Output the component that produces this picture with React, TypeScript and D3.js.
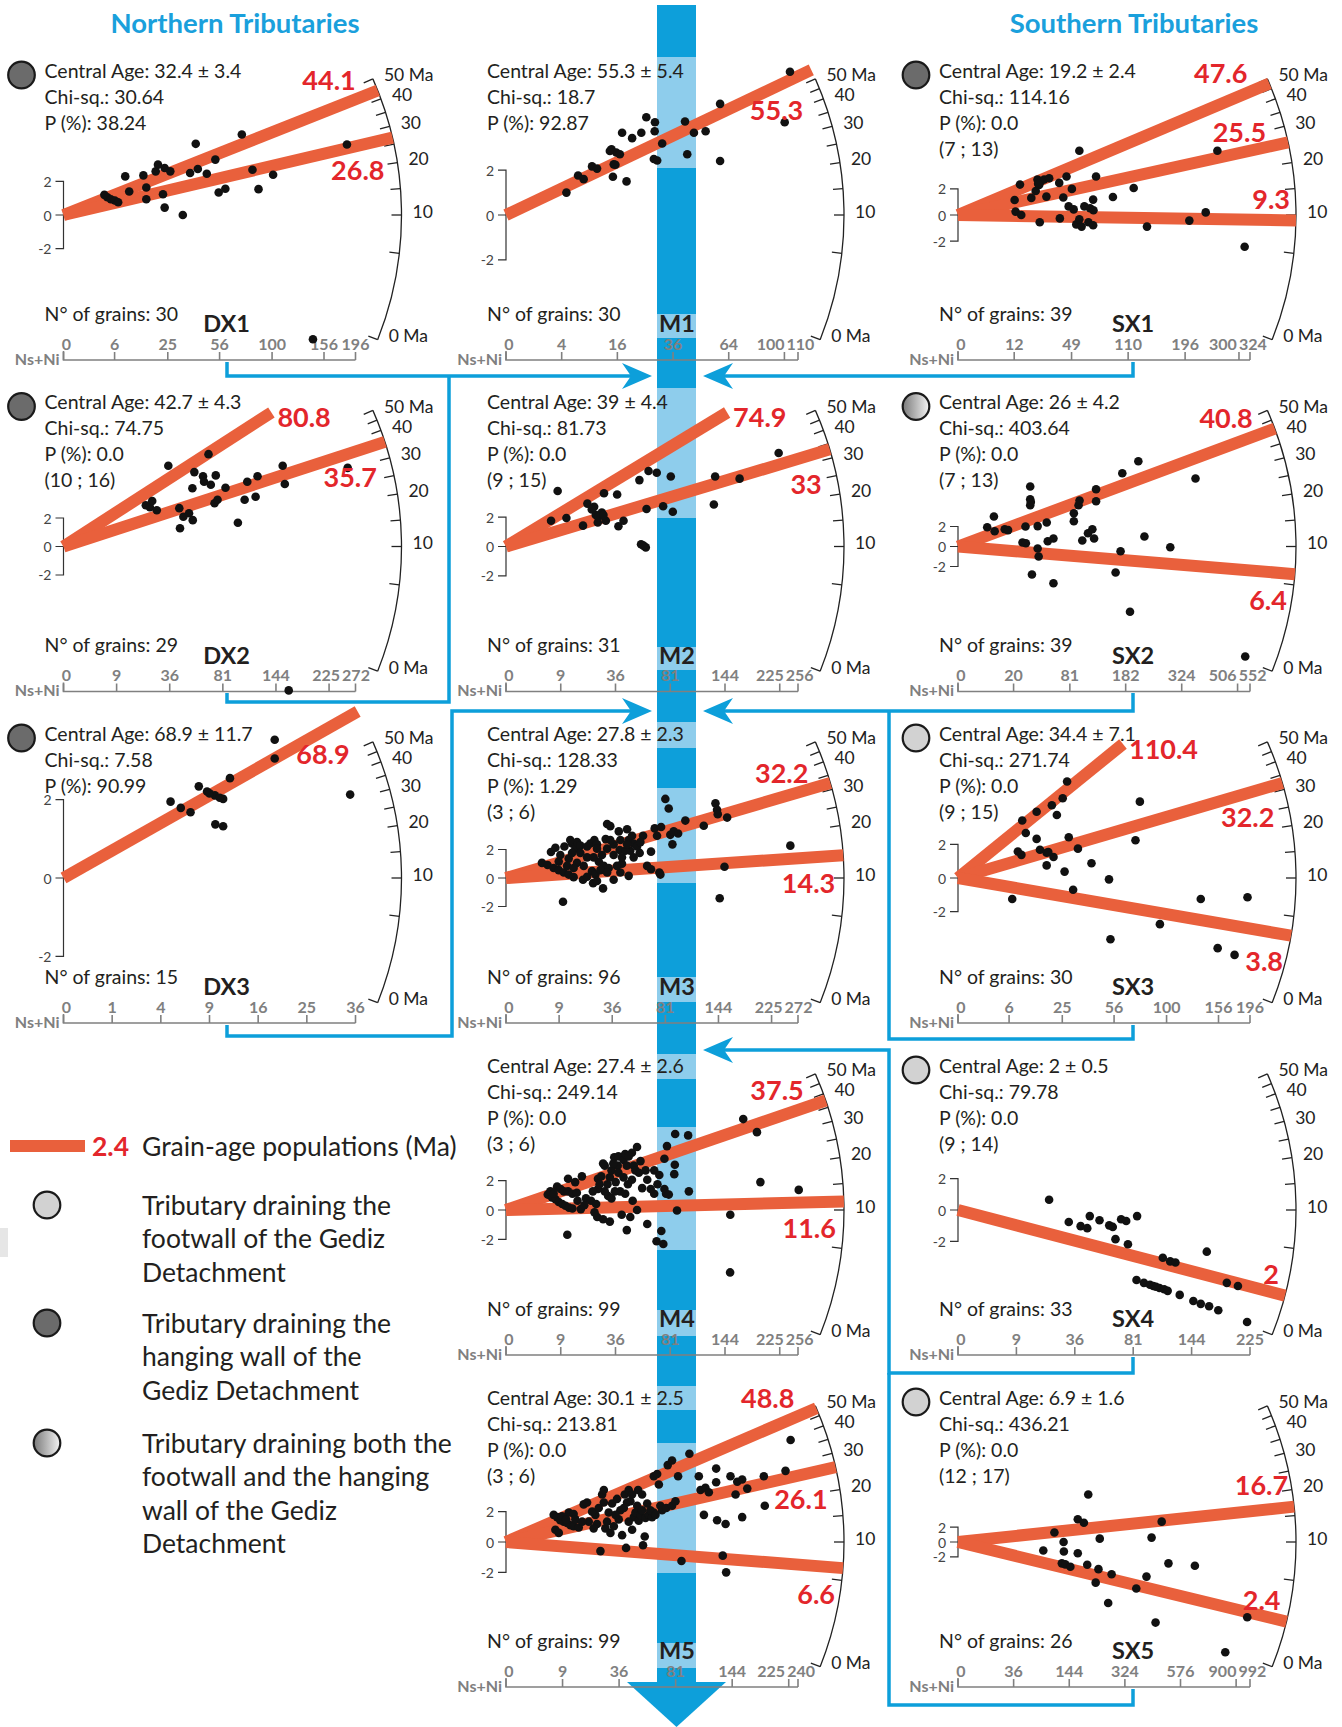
import React from 'react';
import * as d3 from 'd3';

const FONT = 'Lato, "Open Sans", sans-serif';

// arc calibration: age (Ma) -> slope of the ray in the radial plot
const arcAges = [0, 2, 5, 10, 20, 30, 40, 50, 80, 110];
const arcSlopes = [-0.397, -0.262, -0.114, 0, 0.157, 0.272, 0.366, 0.44, 0.64, 0.81];
const arcLabels: [number, string][] = [[0, '0 Ma'], [10, '10'], [20, '20'], [30, '30'], [40, '40'], [50, '50 Ma']];

// grains: [sqrt(Ns+Ni), standardised estimate]
const grainsDX1 = [[1.96,1.2],[2.10,1.06],[2.27,0.94],[2.46,0.86],[2.62,0.76],[2.96,2.3],[3.15,1.4],[3.83,2.36],[3.97,1.64],[3.97,0.94],[4.42,2.6],[4.53,3.0],[4.77,1.24],[4.85,0.44],[4.85,2.8],[5.12,2.6],[5.72,0.0],[6.07,2.5],[6.34,4.24],[6.44,2.74],[6.87,2.46],[7.28,3.3],[7.44,1.34],[7.76,1.56],[8.55,4.8],[9.06,2.7],[9.35,1.54],[10.05,2.4],[13.59,4.2],[11.96,-7.4]];
const grainsDX2 = [[4.65,2.90],[4.88,2.75],[5.01,3.19],[5.27,2.54],[5.92,5.67],[6.54,2.69],[6.58,1.28],[6.77,2.09],[7.09,2.33],[7.30,1.85],[7.28,4.09],[7.39,5.22],[7.88,4.93],[7.94,4.54],[8.19,6.48],[8.32,4.33],[8.60,4.99],[8.53,3.04],[8.70,3.28],[9.15,4.12],[9.85,1.67],[10.23,3.28],[10.38,4.54],[10.85,3.49],[10.96,4.93],[12.38,5.67],[12.50,4.39],[16.05,5.52],[12.72,-10.1]];
const grainsDX3 = [[2.20,1.95],[2.41,1.79],[2.61,1.68],[2.78,2.34],[2.95,2.21],[3.11,2.11],[3.28,2.02],[3.42,2.55],[3.12,1.37],[3.28,1.32],[4.34,3.53],[4.34,3.05],[5.89,2.13],[3.00,2.16],[3.21,2.05]];
const grainsM1 = [[2.17,1.0],[2.59,1.76],[2.79,1.6],[3.09,2.17],[3.27,2.07],[3.79,2.93],[3.84,1.71],[3.87,2.26],[3.96,2.79],[4.09,2.71],[4.17,3.67],[4.33,1.5],[4.53,3.43],[4.86,3.67],[5.04,4.36],[5.35,4.14],[5.34,3.74],[5.31,2.5],[5.43,2.43],[5.61,3.19],[6.43,4.17],[6.51,2.71],[6.75,3.67],[7.17,3.74],[7.69,4.96],[7.69,2.41],[10.01,4.14],[10.2,6.39],[3.73,2.86],[3.93,2.24]];
const grainsM2 = [[2.47,1.75],[2.83,3.78],[3.31,1.94],[4.22,1.42],[4.46,2.92],[4.83,2.71],[4.92,2.15],[5.03,1.63],[5.25,2.31],[5.37,3.63],[5.47,1.75],[6.09,3.54],[6.16,1.38],[6.44,1.75],[7.31,4.52],[7.40,0.15],[7.66,-0.06],[7.70,2.55],[7.81,5.14],[8.26,5.02],[8.61,2.74],[9.03,4.77],[9.14,2.37],[11.39,2.86],[11.46,4.77],[12.80,4.62],[14.94,6.37],[5.06,2.0],[5.34,2.15],[4.70,2.52],[7.53,0.06]];
const grainsM3 = [[2.03,1.06],[2.35,0.91],[2.69,0.70],[2.98,0.55],[3.26,0.39],[3.54,0.24],[3.82,0.06],[4.35,-0.12],[4.92,-0.36],[5.48,-0.73],[6.08,-0.12],[6.46,0.39],[6.93,0.15],
  [2.54,1.82],[2.79,2.12],[3.07,1.61],[3.30,2.21],[3.54,1.36],[3.73,2.42],[3.92,2.06],[4.01,2.52],[4.20,2.27],[4.01,1.06],[4.76,2.42],[4.86,0.48],[4.99,2.67],[5.14,2.36],[5.24,1.15],[5.42,1.61],[5.52,0.85],[5.71,3.79],[5.89,3.64],[5.63,2.73],[5.80,0.70],[6.37,3.27],[6.42,1.97],[6.55,1.00],[6.84,3.42],[6.93,2.67],[7.02,1.91],[7.12,2.97],[7.21,2.42],[7.55,1.76],[7.74,2.97],[8.19,1.85],[8.19,0.61],[8.40,3.48],[8.66,0.39],[8.76,3.58],[9.00,5.55],[9.19,4.88],[9.28,3.03],[9.40,2.36],[9.72,3.12],[10.13,4.03],[11.17,3.67],[11.83,5.24],[11.92,4.79],[11.96,4.48],[12.49,4.24],[12.34,0.79],[12.07,-1.42],[16.06,2.27],
  [3.22,-1.67],[4.58,2.21],[5.14,2.06],[3.45,0.85],[4.20,1.76],[5.71,2.06],[6.08,2.36],[6.46,2.67],[6.74,1.91],[7.40,2.21],[7.59,2.52],[8.53,2.97],[8.72,0.24],[4.39,0.85],[5.05,0.24],[5.33,0.55],[5.71,0.39],[6.27,0.85],[3.73,1.76],[2.98,1.15],[4.58,1.45],[4.95,1.45],[6.08,1.61],[6.55,1.45],[6.84,2.36],[7.21,1.45],[7.97,0.85],[9.47,3.27],[4.58,0.09],[5.14,-0.21],[3.82,0.70],[3.63,2.67],[5.89,2.67]];
const grainsM4 = [[2.29,1.05],[2.52,0.86],[2.71,0.73],[2.89,0.54],[3.08,0.41],[3.26,0.29],[3.45,0.16],[3.64,0.10],[4.10,0.06],[2.80,1.59],[2.99,1.43],[3.17,1.27],[3.40,1.27],[3.64,1.11],[3.88,1.17],[3.40,2.13],[3.79,1.90],[4.16,2.29],[4.38,0.79],[4.66,0.63],[4.94,0.41],[3.36,-1.68],[5.0,-0.48],[5.32,-0.63],[5.69,-0.79],
  [5.04,2.13],[5.22,2.29],[5.41,3.02],[5.56,1.75],[5.60,0.95],[5.69,2.22],[5.78,2.70],[5.93,3.59],[6.01,1.90],[6.12,3.02],[6.16,3.65],[6.25,1.27],[6.34,-0.32],[6.44,3.40],[6.53,3.81],[6.62,3.02],[6.68,1.75],[6.81,-0.48],[6.90,3.90],[6.94,0.63],[7.0,3.02],[7.09,2.70],[7.18,4.29],[7.18,0.0],[6.62,-1.37],
  [7.46,1.49],[7.74,2.06],[7.74,-0.95],[8.12,1.11],[8.12,2.70],[8.30,1.75],[8.25,-2.13],[8.51,-1.43],[8.62,-2.32],[8.68,1.43],[8.77,1.11],[8.68,3.49],[8.82,4.35],[8.92,1.05],[9.27,5.17],[9.25,3.08],[9.22,2.44],[9.37,-0.03],[9.98,5.08],[10.02,1.27],[13.0,6.19],[13.75,5.30],[13.94,1.90],[16.04,1.37],[12.29,-0.32],[12.28,-4.25],
  [5.32,3.17],[5.88,3.17],[5.04,1.43],[5.41,1.27],[5.78,0.79],[6.16,2.54],[6.44,2.22],[6.72,3.65],[7.28,2.54],[2.43,1.27],[2.61,1.11],[3.92,0.63],[4.29,0.32],[4.76,1.27],[5.13,1.75],[5.97,1.27],[6.53,1.11],[6.90,2.06],[7.37,3.33],[7.65,2.70],[7.93,1.43],[8.40,2.38],[4.85,-0.16]];
const grainsM5 = [[2.53,1.79],[2.71,1.64],[2.88,1.43],[3.06,1.34],[3.24,1.25],[3.42,1.10],[3.59,1.04],[3.86,0.96],[2.62,0.81],[2.80,0.60],[3.33,1.94],[3.59,1.85],[4.12,2.48],[4.30,2.60],[4.39,1.34],[4.74,1.79],[4.83,1.19],[5.01,-0.60],
  [5.10,3.13],[5.19,3.43],[5.19,2.60],[5.27,0.90],[5.36,1.34],[5.54,0.60],[5.72,1.04],[5.98,1.49],[6.07,2.09],[6.16,0.45],[6.30,3.13],[6.37,-0.39],[6.42,2.60],[6.51,3.43],[6.60,2.69],[6.69,3.13],[6.78,1.64],[6.87,1.94],[7.01,3.43],[7.04,1.40],
  [7.13,1.79],[7.22,3.13],[7.27,-0.21],[7.36,0.36],[7.40,1.58],[7.58,1.79],[7.75,1.64],[7.84,4.33],[7.84,1.94],[8.02,4.48],[8.11,3.79],[8.19,2.39],[8.28,2.09],[8.50,2.24],[8.58,5.07],[8.81,5.37],[8.81,2.39],[9.13,4.33],[9.31,-1.25],[9.73,5.82],
  [10.23,4.33],[10.32,3.43],[10.50,1.79],[10.58,3.58],[10.76,3.28],[11.15,4.84],[11.15,3.94],[11.20,1.43],[11.50,-0.90],[11.65,1.19],[11.68,-2.0],[11.91,4.33],[12.18,3.13],[12.27,3.97],[12.53,1.64],[12.53,4.12],[12.80,3.52],[13.68,4.33],[13.73,2.39],[14.83,4.69],[15.10,6.72],[8.99,2.69],
  [2.97,1.70],[3.19,1.49],[3.68,1.49],[4.04,1.34],[4.57,2.0],[4.92,2.24],[5.45,1.94],[5.63,2.54],[5.89,2.84],[6.25,2.24],[6.51,1.34],[6.96,2.39],[7.22,2.09],[7.49,2.54],[7.66,2.09],[7.93,1.79],[4.65,0.90],[5.81,1.79],[6.69,0.81]];
const grainsSX1 = [[3.49,1.15],[3.82,2.33],[3.55,0.26],[3.90,0.0],[4.52,1.31],[4.79,1.84],[4.90,2.72],[5.0,2.30],[5.10,2.56],[5.31,2.72],[5.45,1.41],[5.62,2.82],[5.04,-0.56],[6.24,2.46],[6.28,-0.26],[6.49,1.34],[6.69,2.95],[6.82,0.66],[7.02,2.0],[7.13,0.43],[7.29,-0.72],[7.48,4.92],[7.48,-0.33],[7.62,-0.89],[7.79,0.66],[8.04,-0.56],[8.14,0.52],[8.33,1.18],[8.35,0.36],[8.33,-0.79],[8.51,2.95],[9.55,1.38],[10.83,2.07],[11.65,-0.89],[14.26,-0.43],[15.27,0.20],[15.99,4.92],[17.67,-2.43],[4.94,2.39]];
const grainsSX2 = [[2.35,1.92],[2.89,3.0],[2.95,1.52],[3.76,1.72],[4.03,1.64],[5.19,0.4],[5.46,0.32],[5.43,2.0],[5.81,6.0],[5.81,4.72],[5.81,4.12],[6.41,2.04],[6.41,-0.2],[6.49,-1.0],[7.14,2.4],[7.22,0.52],[7.68,0.8],[5.95,-2.8],[7.68,-3.68],[9.32,3.32],[9.32,2.52],[9.70,4.12],[9.78,4.6],[10.0,0.6],[10.46,1.32],[10.81,1.72],[10.95,0.8],[11.11,5.72],[11.11,4.52],[12.68,-2.6],[13.08,-0.48],[13.22,7.32],[13.84,-6.52],[14.51,8.52],[15.0,1.0],[17.08,-0.08],[19.11,6.8],[23.11,-11.0],[5.86,4.44]];
const grainsSX3 = [[2.60,-1.25],[2.87,1.58],[3.04,1.38],[3.08,3.43],[3.25,2.68],[3.77,3.95],[3.77,2.33],[3.93,1.68],[4.25,1.5],[4.25,0.75],[4.50,4.33],[4.58,1.25],[4.74,3.75],[5.02,4.75],[5.11,0.38],[5.23,5.75],[5.31,2.43],[5.52,-0.7],[5.75,1.75],[6.40,0.88],[7.24,-0.08],[7.31,-3.65],[8.51,2.25],[8.72,4.55],[9.68,-2.75],[11.64,-1.25],[12.45,-4.18],[13.26,-4.58],[13.88,-1.15],[4.33,1.55]];
const grainsSX4 = [[4.68,0.65],[5.69,-0.77],[6.30,-1.03],[6.64,-1.16],[6.77,-0.39],[7.27,-0.65],[7.77,-0.98],[7.95,-1.08],[8.09,-1.86],[8.38,-0.59],[8.64,-0.70],[8.73,-2.19],[9.20,-0.39],[9.17,-4.47],[9.55,-4.65],[9.86,-4.77],[10.03,-4.85],[10.35,-4.98],[10.52,-3.05],[10.59,-5.06],[10.77,-5.16],[10.90,-3.28],[11.17,-3.35],[11.39,-5.42],[12.09,-5.81],[12.47,-5.99],[12.78,-2.66],[12.90,-6.14],[13.37,-6.40],[13.81,-4.65],[14.38,-4.85],[14.85,-7.15],[10.17,-4.90]];
const grainsSX5 = [[9.20,-1.14],[10.40,1.27],[11.39,0.0],[11.42,-1.27],[11.20,-2.86],[11.57,-3.0],[12.12,-3.32],[12.92,-1.5],[12.92,3.05],[13.58,2.59],[14.05,6.36],[13.94,-3.05],[14.85,-5.45],[15.15,-3.64],[15.29,0.45],[16.20,-8.18],[16.57,-4.32],[19.23,-6.23],[20.33,-4.64],[20.88,0.59],[21.31,-10.8],[21.97,2.73],[22.70,-2.86],[25.55,-3.18],[28.83,-14.77],[31.20,-10.09]];

// grain-age populations (Ma)
const peaksDX1 = [44.1, 26.8];
const peaksDX2 = [80.8, 35.7];
const peaksDX3 = [68.9];
const peaksM1 = [55.3];
const peaksM2 = [74.9, 33];
const peaksM3 = [32.2, 14.3];
const peaksM4 = [37.5, 11.6];
const peaksM5 = [48.8, 26.1, 6.6];
const peaksSX1 = [47.6, 25.5, 9.3];
const peaksSX2 = [40.8, 6.4];
const peaksSX3 = [110.4, 32.2, 3.8];
const peaksSX4 = [2];
const peaksSX5 = [16.7, 2.4];

// Ns+Ni tick labels
const ticksDX1 = [0, 6, 25, 56, 100, 156, 196];
const ticksDX2 = [0, 9, 36, 81, 144, 225, 272];
const ticksDX3 = [0, 1, 4, 9, 16, 25, 36];
const ticksM1 = [0, 4, 16, 36, 64, 100, 110];
const ticksM2 = [0, 9, 36, 81, 144, 225, 256];
const ticksM3 = [0, 9, 36, 81, 144, 225, 272];
const ticksM4 = [0, 9, 36, 81, 144, 225, 256];
const ticksM5 = [0, 9, 36, 81, 144, 225, 240];
const ticksSX1 = [0, 12, 49, 110, 196, 300, 324];
const ticksSX2 = [0, 20, 81, 182, 324, 506, 552];
const ticksSX3 = [0, 6, 25, 56, 100, 156, 196];
const ticksSX4 = [0, 9, 36, 81, 144, 225];
const ticksSX5 = [0, 36, 144, 324, 576, 900, 992];

const statsDX1 = ['Central Age: 32.4 ± 3.4', 'Chi-sq.: 30.64', 'P (%): 38.24'];
const statsDX2 = ['Central Age: 42.7 ± 4.3', 'Chi-sq.: 74.75', 'P (%): 0.0', '(10 ; 16)'];
const statsDX3 = ['Central Age: 68.9 ± 11.7', 'Chi-sq.: 7.58', 'P (%): 90.99'];
const statsM1 = ['Central Age: 55.3 ± 5.4', 'Chi-sq.: 18.7', 'P (%): 92.87'];
const statsM2 = ['Central Age: 39 ± 4.4', 'Chi-sq.: 81.73', 'P (%): 0.0', '(9 ; 15)'];
const statsM3 = ['Central Age: 27.8 ± 2.3', 'Chi-sq.: 128.33', 'P (%): 1.29', '(3 ; 6)'];
const statsM4 = ['Central Age: 27.4 ± 2.6', 'Chi-sq.: 249.14', 'P (%): 0.0', '(3 ; 6)'];
const statsM5 = ['Central Age: 30.1 ± 2.5', 'Chi-sq.: 213.81', 'P (%): 0.0', '(3 ; 6)'];
const statsSX1 = ['Central Age: 19.2 ± 2.4', 'Chi-sq.: 114.16', 'P (%): 0.0', '(7 ; 13)'];
const statsSX2 = ['Central Age: 26 ± 4.2', 'Chi-sq.: 403.64', 'P (%): 0.0', '(7 ; 13)'];
const statsSX3 = ['Central Age: 34.4 ± 7.1', 'Chi-sq.: 271.74', 'P (%): 0.0', '(9 ; 15)'];
const statsSX4 = ['Central Age: 2 ± 0.5', 'Chi-sq.: 79.78', 'P (%): 0.0', '(9 ; 14)'];
const statsSX5 = ['Central Age: 6.9 ± 1.6', 'Chi-sq.: 436.21', 'P (%): 0.0', '(12 ; 17)'];

const legendItems = [
  { kind: 'foot', lines: ['Tributary draining the', 'footwall of the Gediz', 'Detachment'] },
  { kind: 'hang', lines: ['Tributary draining the', 'hanging wall of the', 'Gediz Detachment'] },
  { kind: 'both', lines: ['Tributary draining both the', 'footwall and the hanging', 'wall of the Gediz', 'Detachment'] },
];

type Pos = 'above' | 'below' | 'right';
const panels = [
  { id: 'DX1', col: 0, row: 0, marker: 'hang', n: 30, stats: statsDX1, ticks: ticksDX1, grains: grainsDX1, peaks: peaksDX1, pos: ['above', 'below'] },
  { id: 'DX2', col: 0, row: 1, marker: 'hang', n: 29, stats: statsDX2, ticks: ticksDX2, grains: grainsDX2, peaks: peaksDX2, pos: ['right', 'below'] },
  { id: 'DX3', col: 0, row: 2, marker: 'hang', n: 15, stats: statsDX3, ticks: ticksDX3, grains: grainsDX3, peaks: peaksDX3, pos: ['below'] },
  { id: 'M1', col: 1, row: 0, marker: '', n: 30, stats: statsM1, ticks: ticksM1, grains: grainsM1, peaks: peaksM1, pos: ['below'] },
  { id: 'M2', col: 1, row: 1, marker: '', n: 31, stats: statsM2, ticks: ticksM2, grains: grainsM2, peaks: peaksM2, pos: ['right', 'below'] },
  { id: 'M3', col: 1, row: 2, marker: '', n: 96, stats: statsM3, ticks: ticksM3, grains: grainsM3, peaks: peaksM3, pos: ['above', 'below'] },
  { id: 'M4', col: 1, row: 3, marker: '', n: 99, stats: statsM4, ticks: ticksM4, grains: grainsM4, peaks: peaksM4, pos: ['above', 'below'] },
  { id: 'M5', col: 1, row: 4, marker: '', n: 99, stats: statsM5, ticks: ticksM5, grains: grainsM5, peaks: peaksM5, pos: ['above', 'below', 'below'] },
  { id: 'SX1', col: 2, row: 0, marker: 'hang', n: 39, stats: statsSX1, ticks: ticksSX1, grains: grainsSX1, peaks: peaksSX1, pos: ['above', 'above', 'above'] },
  { id: 'SX2', col: 2, row: 1, marker: 'both', n: 39, stats: statsSX2, ticks: ticksSX2, grains: grainsSX2, peaks: peaksSX2, pos: ['above', 'below'] },
  { id: 'SX3', col: 2, row: 2, marker: 'foot', n: 30, stats: statsSX3, ticks: ticksSX3, grains: grainsSX3, peaks: peaksSX3, pos: ['right', 'below', 'below'] },
  { id: 'SX4', col: 2, row: 3, marker: 'foot', n: 33, stats: statsSX4, ticks: ticksSX4, grains: grainsSX4, peaks: peaksSX4, pos: ['above'] },
  { id: 'SX5', col: 2, row: 4, marker: 'foot', n: 26, stats: statsSX5, ticks: ticksSX5, grains: grainsSX5, peaks: peaksSX5, pos: ['above', 'above'] },
];

// layout
const W = 1342, H = 1727;
const colX = [63.5, 506, 958];
const nameDx = [163, 171, 175];
const rowY = [215, 546.5, 878, 1210, 1542];
const AXIS_LEN = 292, Y_K = 235, R = 338, MAX_RISE = 134;
const BLUE = '#0d9fda', LIGHT = '#8ecdec', RED_LINE = '#e9603c', RED_TXT = '#e3262b', INK = '#231f20', GREY = '#808080';
const markerFill: Record<string, string> = { foot: '#d2d2d2', hang: '#6b6b6b', both: 'url(#gradBoth)' };
const TICK_FS = 16, CW = 0.56 * TICK_FS;

const bandLight = [[57,168],[314,338],[388,518],[647,670],[722,748],[788,883],[977,1002],[1054,1079],[1127,1250],[1310,1336],[1386,1410],[1443,1573],[1643,1668]];
const connectors = [
  'M227,362 V376 H632', 'M227,693 V702 H449 V376', 'M227,1025 V1036 H452 V711 H632',
  'M1133,362 V376 H722', 'M1133,693 V711 H722', 'M1133,1025 V1039 H889 V711',
  'M1133,1357 V1373 H889 V1050 H722', 'M1133,1689 V1705 H889 V1373',
];
const arrowTips: [number, number, number][] = [[652, 376, 1], [652, 711, 1], [703, 376, -1], [703, 711, -1], [703, 1050, -1]];

const slope = d3.scaleLinear().domain(arcAges).range(arcSlopes);

// keep the last two precision labels apart (mostly moving the second-to-last one)
function tickLabelX(ticks: number[], xN: (v: number) => number) {
  const xs = ticks.map(t => xN(t));
  const k = ticks.length;
  const wPen = String(ticks[k - 2]).length * CW, wLast = String(ticks[k - 1]).length * CW;
  const need = (wPen + wLast) / 2 + 3, gap = xs[k - 1] - xs[k - 2];
  if (gap < need) {
    const s = need - gap;
    xs[k - 2] -= s * 0.85;
    xs[k - 1] += s * 0.15;
  }
  xs[0] += 3;
  return xs;
}

function Panel({ p }: { p: typeof panels[number] }) {
  const ox = colX[p.col], oy = rowY[p.row];
  const nMax = p.ticks[p.ticks.length - 1];
  const xN = d3.scaleSqrt().domain([0, nMax]).range([ox, ox + AXIS_LEN]);
  const xP = d3.scaleLinear().domain([0, Math.sqrt(nMax)]).range([ox, ox + AXIS_LEN]);
  const yS = d3.scaleLinear().domain([0, 1]).range([oy, oy - Y_K / Math.sqrt(nMax)]);
  const th = (a: number) => Math.atan(slope(a));
  const pt = (a: number, r: number) => [ox + r * Math.cos(th(a)), oy - r * Math.sin(th(a))];
  const arc = d3.path();
  arc.arc(ox, oy, R, -th(50), -th(0), false);
  const axY = oy + 145;
  const lx = tickLabelX(p.ticks, xN);
  const rays = p.peaks.map((a, i) => {
    const pos = p.pos[i] as Pos;
    const t = th(a);
    const len = pos === 'right' ? Math.min(R, MAX_RISE / Math.sin(t)) : R;
    return { a, pos, sl: slope(a), ex: ox + len * Math.cos(t), ey: oy - len * Math.sin(t) };
  });
  return (
    <g>
      {p.marker && <circle cx={ox - 42} cy={oy - 140} r={13.3} fill={markerFill[p.marker]} stroke="#1a1a1a" strokeWidth={2.2} />}
      {p.stats.map((s, i) => (
        <text key={i} x={ox - 19} y={oy - 145 + i * 26} dominantBaseline="central" fontSize={19.5} fill={INK}>{s}</text>
      ))}
      <text x={ox - 19} y={oy + 98} dominantBaseline="central" fontSize={19.5} fill={INK}>{`N° of grains: ${p.n}`}</text>
      <text x={ox + nameDx[p.col]} y={oy + 108} dominantBaseline="central" textAnchor="middle" fontSize={23.5} fontWeight={700} fill={INK}>{p.id}</text>
      {/* y axis */}
      <path d={`M${ox - 8},${yS(2)} H${ox} V${yS(-2)} H${ox - 8} M${ox - 8},${yS(0)} H${ox}`} fill="none" stroke="#333" strokeWidth={1.2} />
      {[2, 0, -2].map(v => (
        <text key={v} x={ox - 12} y={yS(v)} dominantBaseline="central" textAnchor="end" fontSize={14} fill="#444">{v}</text>
      ))}
      {/* precision axis */}
      <path d={`M${ox},${axY - 9} V${axY} H${ox + AXIS_LEN}`} fill="none" stroke={GREY} strokeWidth={1.6} />
      {p.ticks.map((t, i) => (
        <g key={t}>
          <line x1={xN(t)} x2={xN(t)} y1={axY} y2={axY - 8} stroke={GREY} strokeWidth={1.6} />
          <text x={lx[i]} y={oy + 128} dominantBaseline="central" textAnchor="middle" fontSize={TICK_FS} fontWeight={700} fill={GREY}>{t}</text>
        </g>
      ))}
      <text x={ox - 4} y={oy + 143} dominantBaseline="central" textAnchor="end" fontSize={16} fontWeight={700} fill={GREY}>Ns+Ni</text>
      {/* age arc */}
      <path d={arc.toString()} fill="none" stroke="#222" strokeWidth={1.3} />
      {d3.range(0, 51, 5).map(a => {
        const [x1, y1] = pt(a, R - 10), [x2, y2] = pt(a, R);
        return <line key={a} x1={x1} y1={y1} x2={x2} y2={y2} stroke="#222" strokeWidth={1.3} />;
      })}
      {arcLabels.map(([a, s]) => {
        const [x, y] = pt(a, R);
        return <text key={a} x={x + 11} y={y - 4} dominantBaseline="central" fontSize={17.5} fill="#222">{s}</text>;
      })}
      {/* population rays */}
      {rays.map(r => <line key={r.a} x1={ox} y1={oy} x2={r.ex} y2={r.ey} stroke={RED_LINE} strokeWidth={12} />)}
      {p.grains.map(([s, v], i) => (
        <circle key={i} cx={xP(s)} cy={yS(v)} r={4.3} fill="#111" />
      ))}
      {rays.map(r => {
        let x = r.ex, y = r.ey, anchor = 'end';
        if (r.pos === 'right') { x = r.ex + 6; y = r.ey + 4; anchor = 'start'; }
        else if (r.pos === 'above') { if (r.sl > 0.15) { x = r.ex - 22; y = r.ey - 11; } else { x = r.ex - 6; y = r.ey - 22; } }
        else { x = r.ex - 8; y = r.ey + 25 + 30 * Math.max(r.sl, 0); }
        return <text key={r.a} x={x} y={y} dominantBaseline="central" textAnchor={anchor} fontSize={27} fontWeight={700} fill={RED_TXT}>{r.a}</text>;
      })}
    </g>
  );
}

export default function App() {
  return (
    <svg width={W} height={H} viewBox={`0 0 ${W} ${H}`} style={{ position: 'absolute', left: 0, top: 0, background: '#fff' }} fontFamily={FONT}>
      <defs>
        <linearGradient id="gradBoth" x1="0" x2="1" y1="0" y2="0">
          <stop offset="0" stopColor="#7a7a7a" />
          <stop offset="1" stopColor="#f4f4f4" />
        </linearGradient>
      </defs>
      <rect x={0} y={0} width={W} height={H} fill="#fff" />
      <rect x={0} y={1228} width={8} height={29} fill="#e6e6e6" />
      {/* central trunk */}
      <rect x={657} y={5} width={39} height={1677} fill={BLUE} />
      {bandLight.map(([a, b], i) => <rect key={i} x={657} y={a} width={39} height={b - a} fill={LIGHT} />)}
      <path d="M627,1682 L726,1682 L676.5,1727 Z" fill={BLUE} />
      {connectors.map((d, i) => <path key={i} d={d} fill="none" stroke={BLUE} strokeWidth={3.5} />)}
      {arrowTips.map(([x, y, dir], i) => (
        <path key={i} d={`M${x},${y} L${x - dir * 30},${y - 13} L${x - dir * 21},${y} L${x - dir * 30},${y + 13} Z`} fill={BLUE} />
      ))}
      <text x={235} y={22} textAnchor="middle" dominantBaseline="central" fontSize={27.5} fontWeight={700} fill="#1aa0dc">Northern Tributaries</text>
      <text x={1134} y={22} textAnchor="middle" dominantBaseline="central" fontSize={27.5} fontWeight={700} fill="#1aa0dc">Southern Tributaries</text>
      {panels.map(p => <Panel key={p.id} p={p} />)}
      {/* legend */}
      <line x1={10} x2={85} y1={1146} y2={1146} stroke={RED_LINE} strokeWidth={12} />
      <text x={92} y={1146} dominantBaseline="central" fontSize={26.5} fontWeight={700} fill={RED_TXT}>2.4</text>
      <text x={142} y={1146} dominantBaseline="central" fontSize={26.5} fill={INK}>Grain-age populations (Ma)</text>
      {legendItems.map((it, i) => {
        const y0 = [1205, 1323, 1443][i];
        return (
          <g key={it.kind}>
            <circle cx={47} cy={y0} r={13.3} fill={markerFill[it.kind]} stroke="#1a1a1a" strokeWidth={2.2} />
            {it.lines.map((l, j) => (
              <text key={j} x={142} y={y0 + j * 33.3} dominantBaseline="central" fontSize={26.5} fill={INK}>{l}</text>
            ))}
          </g>
        );
      })}
    </svg>
  );
}
